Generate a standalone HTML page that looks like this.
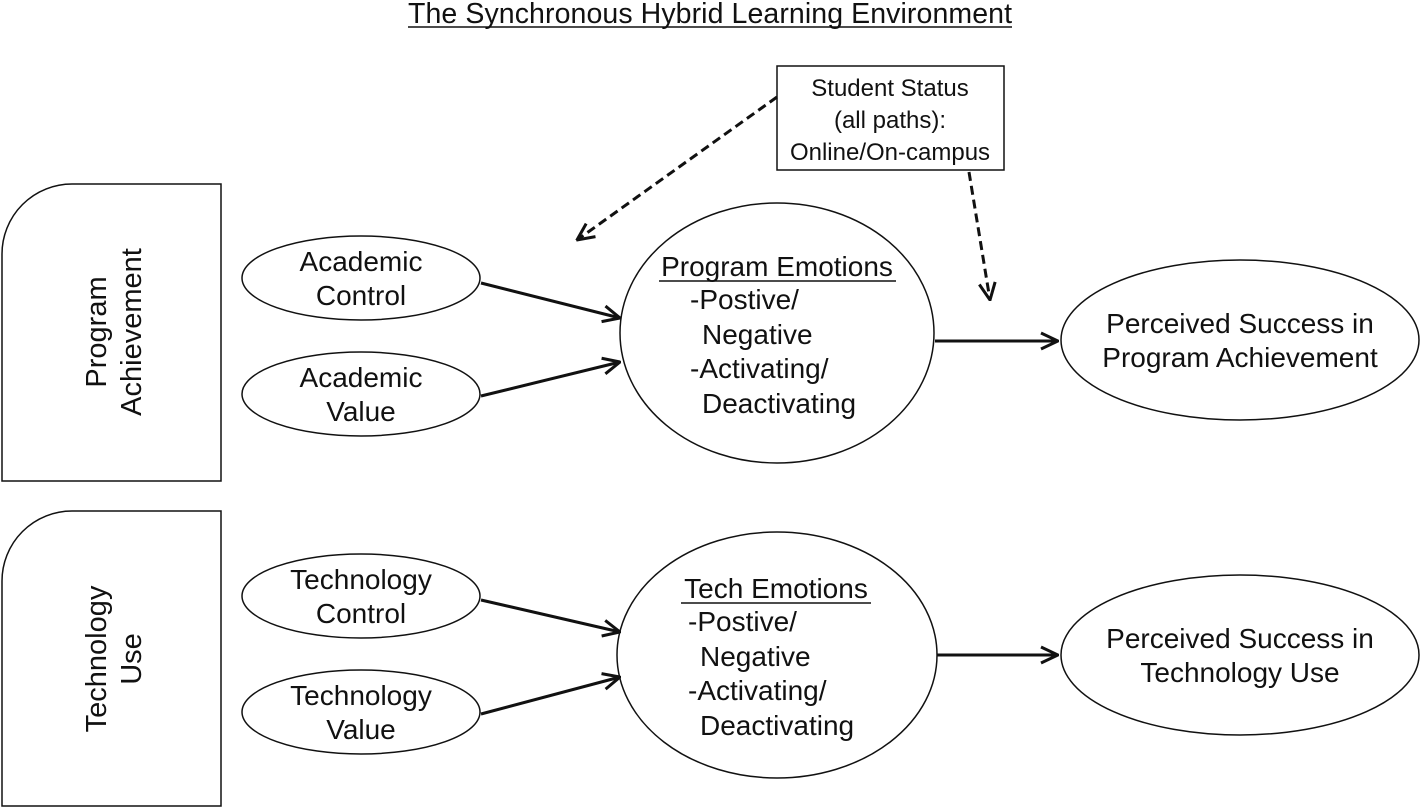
<!DOCTYPE html>
<html><head><meta charset="utf-8"><style>body{margin:0;background:#fff}svg{display:block}</style></head><body>
<svg width="1421" height="809" viewBox="0 0 1421 809" xmlns="http://www.w3.org/2000/svg" font-family="Liberation Sans, Arial, sans-serif" fill="none" stroke="#111">
<defs>
<marker id="b" viewBox="0 0 20 20" refX="19" refY="10" markerWidth="20" markerHeight="20" markerUnits="userSpaceOnUse" orient="auto"><path d="M2 2 L19 10 L2 18" stroke="#111" stroke-width="3" fill="none"/></marker></defs>
<g fill="#111" stroke="none" text-anchor="middle" font-size="28.5">
<text x="710" y="23" textLength="604">The Synchronous Hybrid Learning Environment</text>
</g>
<line x1="408" y1="27" x2="1012" y2="27" stroke-width="1.5"/>
<path d="M72 184 H221 V481 H2 V254 A70 70 0 0 1 72 184 Z" stroke-width="1.5"/>
<path d="M72 511 H221 V806 H2 V581 A70 70 0 0 1 72 511 Z" stroke-width="1.5"/>
<g fill="#111" stroke="none" text-anchor="middle" font-size="29">
<text transform="translate(106,332) rotate(-90)">Program</text>
<text transform="translate(141,332) rotate(-90)">Achievement</text>
<text transform="translate(106,659) rotate(-90)">Technology</text>
<text transform="translate(141,659) rotate(-90)">Use</text>
</g>
<rect x="777" y="66" width="227" height="104" stroke-width="1.5"/>
<g fill="#111" stroke="none" text-anchor="middle" font-size="24">
<text x="890" y="96">Student Status</text><text x="890" y="128">(all paths):</text><text x="890" y="160">Online/On-campus</text>
</g>
<g stroke-width="1.5" fill="#fff">
<ellipse cx="361" cy="278" rx="119" ry="42"/><ellipse cx="361" cy="394" rx="119" ry="42"/>
<ellipse cx="361" cy="596" rx="119" ry="42"/><ellipse cx="361" cy="712" rx="119" ry="42"/>
<ellipse cx="777" cy="333" rx="157" ry="130"/><ellipse cx="777" cy="655" rx="160" ry="123"/>
<ellipse cx="1240" cy="340" rx="179" ry="80"/><ellipse cx="1240" cy="655" rx="179" ry="80"/>
</g>
<g fill="#111" stroke="none" text-anchor="middle" font-size="28">
<text x="361" y="271">Academic</text><text x="361" y="305">Control</text>
<text x="361" y="387">Academic</text><text x="361" y="421">Value</text>
<text x="361" y="589">Technology</text><text x="361" y="623">Control</text>
<text x="361" y="705">Technology</text><text x="361" y="739">Value</text>
<text x="777" y="276">Program Emotions</text>
<text x="776" y="598">Tech Emotions</text>
<text x="1240" y="333">Perceived Success in</text><text x="1240" y="367">Program Achievement</text>
<text x="1240" y="648">Perceived Success in</text><text x="1240" y="682">Technology Use</text>
</g>
<g fill="#111" stroke="none" font-size="28">
<text x="690" y="309">-Postive/</text><text x="702" y="344">Negative</text><text x="690" y="378">-Activating/</text><text x="702" y="413">Deactivating</text>
<text x="688" y="631">-Postive/</text><text x="700" y="666">Negative</text><text x="688" y="700">-Activating/</text><text x="700" y="735">Deactivating</text>
</g>
<line x1="659" y1="281" x2="896" y2="281" stroke-width="1.5"/>
<line x1="681" y1="603" x2="871" y2="603" stroke-width="1.5"/>
<g stroke-width="3" marker-end="url(#b)">
<line x1="481" y1="283" x2="620" y2="318"/><line x1="481" y1="396" x2="620" y2="362"/>
<line x1="481" y1="600" x2="620" y2="632"/><line x1="481" y1="714" x2="620" y2="677"/>
<line x1="935" y1="341" x2="1058" y2="341"/><line x1="937" y1="655" x2="1058" y2="655"/>
<line x1="777" y1="97" x2="577" y2="240" stroke-dasharray="9,5"/>
<line x1="969" y1="172" x2="990" y2="300" stroke-dasharray="9,5"/>
</g>
</svg>
</body></html>
